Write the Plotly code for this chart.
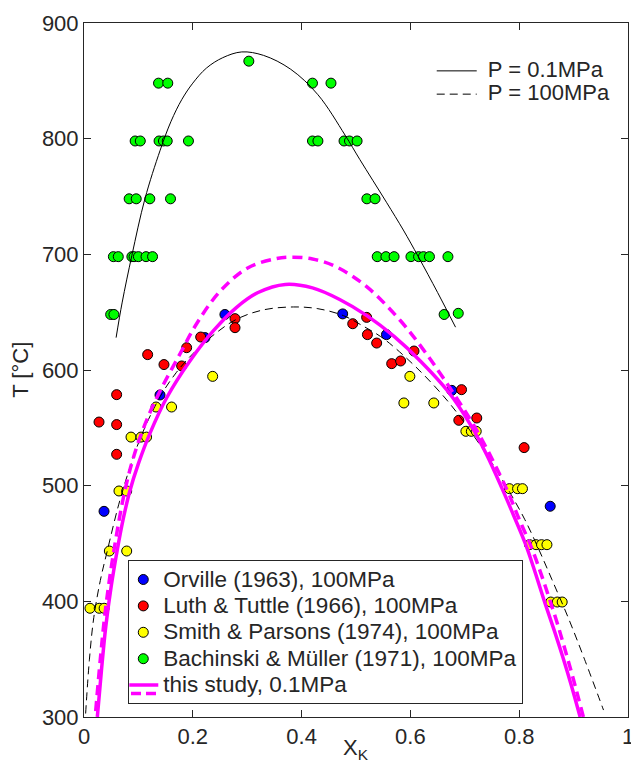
import plotly.graph_objects as go

# ---------------- data ----------------
# Orville (1963), 100MPa
orv_x = [0.259, 0.4755, 0.2224, 0.1397, 0.0368, 0.556, 0.676, 0.857]
orv_T = [648, 648.5, 628, 578.4, 477.8, 630.6, 582.4, 482.2]

# Luth & Tuttle (1966), 100MPa
luth_x = [0.2776, 0.2776, 0.494, 0.2145, 0.1887, 0.117, 0.147, 0.1795, 0.060, 0.0276,
          0.060, 0.060, 0.5196, 0.521, 0.538, 0.6066, 0.5656, 0.582, 0.694, 0.689,
          0.722, 0.809]
luth_T = [644.4, 636.6, 640, 628.5, 619.3, 613.3, 604.7, 603.5, 578.7, 555,
          552.8, 527.1, 645.5, 630.6, 623.3, 616.4, 605.5, 607.8, 583, 556.5,
          558.5, 532.9]

# Smith & Parsons (1974), 100MPa
smith_x = [0.011, 0.028, 0.037, 0.0466, 0.0785, 0.0643, 0.0785, 0.0864, 0.1048, 0.115,
           0.1324, 0.161, 0.2365, 0.599, 0.588, 0.643, 0.702, 0.712, 0.721, 0.782,
           0.797, 0.806, 0.819, 0.831, 0.841, 0.851, 0.858, 0.870, 0.879]
smith_T = [394, 394, 394, 443.5, 443.5, 495.4, 495.4, 542, 542, 542,
           568, 568, 594.5, 594.5, 571.5, 571.5, 547, 547, 547, 497.4,
           497.4, 497.4, 449, 449, 449, 449, 399.4, 399.4, 399.4]

# Bachinski & Müller (1971), 100MPa
bach_x = [0.303,
          0.137, 0.154, 0.420, 0.454,
          0.094, 0.1035, 0.138, 0.146, 0.153, 0.192, 0.420, 0.430, 0.478, 0.488, 0.502,
          0.083, 0.096, 0.121, 0.159, 0.520, 0.535,
          0.054, 0.063, 0.088, 0.092, 0.100, 0.114, 0.126, 0.539, 0.555, 0.570, 0.601,
          0.615, 0.624, 0.635, 0.669,
          0.049, 0.055, 0.662, 0.688]
bach_T = [867,
          848, 848, 848, 848,
          798, 798, 798, 798, 798, 798, 798, 798, 798, 798, 798,
          748, 748, 748, 748, 748, 748,
          698, 698, 698, 698, 698, 698, 698, 698, 698, 698, 698,
          698, 698, 698, 698,
          648, 648, 648, 649]

# P = 0.1MPa solvus (black solid)
p01_x = [0.059, 0.070, 0.088, 0.112, 0.140, 0.160, 0.180, 0.200, 0.225, 0.255,
         0.290, 0.330, 0.380, 0.430, 0.480, 0.507, 0.556, 0.587, 0.6145, 0.650,
         0.683]
p01_T = [628, 658, 699, 748, 790, 815, 834, 848, 861, 870,
         875, 872, 860, 838, 803, 782, 745, 721, 698, 667,
         637]

# P = 100MPa solvus (black dashed)
p100_x = [0.003, 0.010, 0.018, 0.030, 0.043, 0.064, 0.086, 0.107, 0.140, 0.170,
          0.200, 0.240, 0.281, 0.330, 0.385, 0.430, 0.477, 0.513, 0.545, 0.572,
          0.620, 0.667, 0.700, 0.734, 0.760, 0.783, 0.810, 0.835, 0.860, 0.890,
          0.920, 0.955]
p100_T = [303, 350, 386, 418, 444, 484, 518, 545, 577, 598,
          614, 631, 644, 652, 654.5, 653, 647, 638, 629, 619,
          598, 574, 554, 531, 512, 494, 471, 446, 419, 386,
          350, 306]

# this study, 0.1MPa (magenta solid)
ts_x = [0.0245, 0.032, 0.040, 0.050, 0.061, 0.072, 0.084, 0.100, 0.121, 0.152,
        0.195, 0.238, 0.280, 0.320, 0.370, 0.420, 0.470, 0.520, 0.570, 0.620,
        0.670, 0.710, 0.740, 0.769, 0.790, 0.812, 0.830, 0.847, 0.865, 0.880,
        0.896, 0.912]
ts_T = [300, 340, 378, 413, 444, 471, 495, 519, 545, 576,
        608, 634, 654, 667, 674, 671, 661, 647, 629, 607,
        581, 553, 527, 497, 474, 449, 424, 399, 374, 352,
        327, 300]

# this study (magenta dashed)
tsd_x = [0.0215, 0.030, 0.040, 0.055, 0.0767, 0.098, 0.120, 0.140, 0.1765, 0.207,
         0.250, 0.300, 0.350, 0.380, 0.420, 0.4645, 0.5196, 0.581, 0.620, 0.6605,
         0.7218, 0.777, 0.800, 0.823, 0.840, 0.855, 0.870, 0.885, 0.900, 0.918]
tsd_T = [305, 350, 395, 444, 499, 535, 562, 582, 614, 640,
         668, 688, 696, 697.5, 696, 689, 672, 643, 620, 593,
         548, 497, 471, 446, 424, 403, 381, 357, 332, 300]

x_ticks = [0, 0.2, 0.4, 0.6, 0.8, 1]
x_ticktext = ["0", "0.2", "0.4", "0.6", "0.8", "1"]
y_ticks = [300, 400, 500, 600, 700, 800, 900]

# ---------------- figure ----------------
FONT = "Liberation Sans, Arial, Helvetica, sans-serif"
AX = "#262626"
MAG = "#FF00FF"


def big(s, px=22):
    return '<span style="font-size:%spx">%s</span>' % (px, s)


fig = go.Figure()

mk = dict(size=10, line=dict(color="black", width=1))
for xs, ts, col, name in [
    (orv_x, orv_T, "#0000FF", "Orville (1963), 100MPa"),
    (luth_x, luth_T, "#FF0000", "Luth & Tuttle (1966), 100MPa"),
    (smith_x, smith_T, "#FFFF00", "Smith & Parsons (1974), 100MPa"),
    (bach_x, bach_T, "#00FF00", "Bachinski & Müller (1971), 100MPa"),
]:
    fig.add_trace(go.Scatter(x=xs, y=ts, mode="markers", name=big(name, 22.5),
                             marker=dict(color=col, **mk), legend="legend"))

spl = dict(shape="spline", smoothing=1.0)
fig.add_trace(go.Scatter(x=p01_x, y=p01_T, mode="lines", name=big("\u00a0P = 0.1MPa"),
                         line=dict(color="black", width=1, **spl),
                         legend="legend2"))
fig.add_trace(go.Scatter(x=p100_x, y=p100_T, mode="lines", name=big("\u00a0P = 100MPa"),
                         line=dict(color="black", width=1, dash="8px,5px", **spl),
                         legend="legend2"))
fig.add_trace(go.Scatter(x=tsd_x, y=tsd_T, mode="lines", showlegend=False,
                         line=dict(color=MAG, width=3.5, dash="10px,6px", **spl)))
fig.add_trace(go.Scatter(x=ts_x, y=ts_T, mode="lines", name=big("this study, 0.1MPa", 22.5),
                         line=dict(color=MAG, width=3.5, **spl),
                         legend="legend"))

axis_common = dict(showline=True, linecolor=AX, linewidth=1, mirror="ticks",
                   ticks="inside", ticklen=7, tickcolor=AX, showgrid=False,
                   zeroline=False, automargin=False, ticklabeloverflow="allow",
                   tickfont=dict(family=FONT, size=22, color=AX))

fig.update_layout(
    width=631, height=763,
    margin=dict(l=84, r=3, t=23, b=46),
    paper_bgcolor="white", plot_bgcolor="white",
    font=dict(family=FONT, color=AX),
    xaxis=dict(range=[0, 1], tickvals=x_ticks, ticktext=x_ticktext, **axis_common),
    yaxis=dict(range=[300, 900], tickvals=y_ticks, **axis_common),
    legend=dict(x=0.0814, y=0.0183, xanchor="left", yanchor="bottom",
                bgcolor="rgba(255,255,255,0)", bordercolor=AX, borderwidth=1,
                font=dict(family=FONT, size=18, color=AX), itemwidth=30,
                tracegroupgap=0, indentation=-6),
    legend2=dict(x=0.6392, y=0.955, xanchor="left", yanchor="top",
                 bgcolor="rgba(255,255,255,0)", borderwidth=0,
                 font=dict(family=FONT, size=15.6, color=AX), itemwidth=40),
    # dashed half of the "this study" legend glyph (legend decoration only)
    shapes=[dict(type="line", xref="paper", yref="paper",
                 x0=0.0864, x1=0.134, y0=0.034, y1=0.034,
                 line=dict(color=MAG, width=3.5, dash="10px,5px"))],
    annotations=[
        dict(text="X<sub>K</sub>", xref="paper", yref="paper", x=0.5, y=-0.0235,
             xanchor="center", yanchor="top", showarrow=False,
             font=dict(family=FONT, size=22, color=AX)),
        dict(text="T [°C]", xref="paper", yref="paper", x=-0.118, y=0.5,
             xanchor="center", yanchor="middle", textangle=-90, showarrow=False,
             font=dict(family=FONT, size=22, color=AX)),
    ],
)

fig.write_html("out.html", config={"displayModeBar": False},
               post_script="document.body.style.margin='0';"
                           "document.body.style.overflow='hidden';")
